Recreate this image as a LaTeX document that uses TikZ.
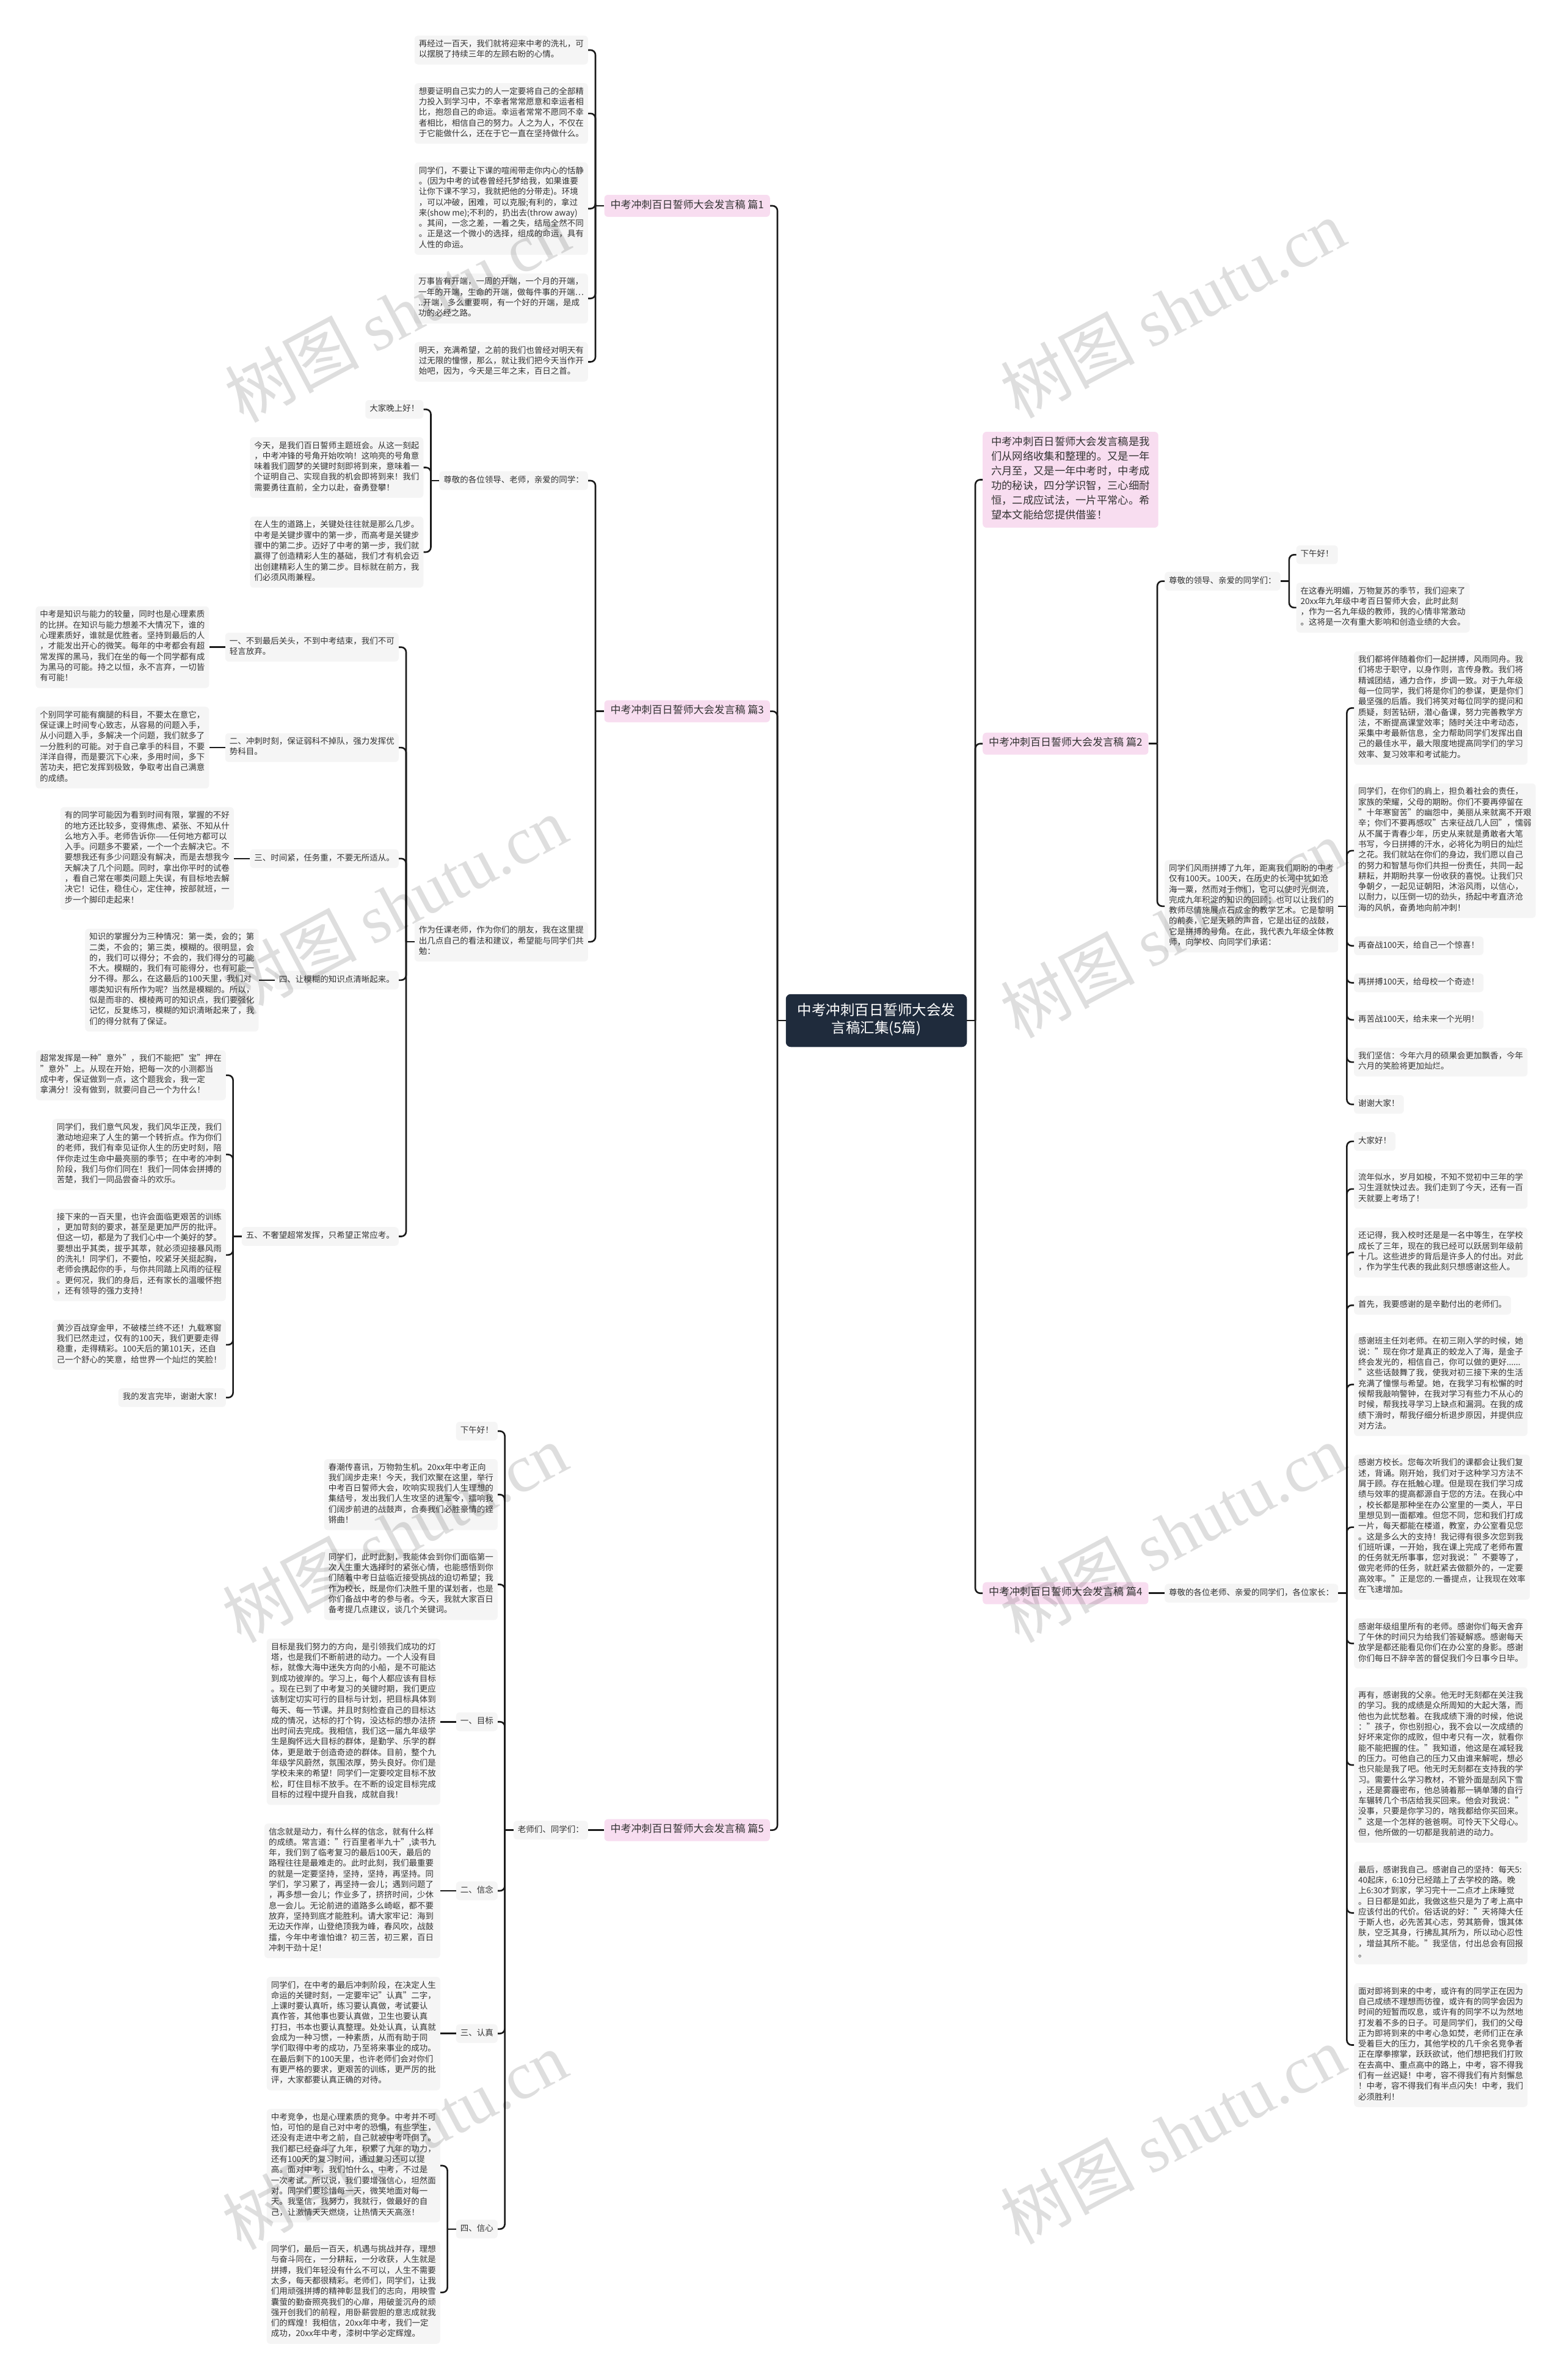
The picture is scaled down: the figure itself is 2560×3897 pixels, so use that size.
\documentclass[tikz,border=0pt]{standalone}
\usepackage{fontspec}
\setmainfont{Noto Sans CJK SC}
\newfontfamily\wmfont{Liberation Serif}
\definecolor{leafc}{HTML}{F5F5F5}
\definecolor{pinkc}{HTML}{F8DDF0}
\definecolor{navyc}{HTML}{1F2B3C}
\definecolor{txtc}{HTML}{333333}
\definecolor{linec}{HTML}{1A1A1A}
\tikzset{
  box/.style={rounded corners=6pt, inner xsep=7pt, inner ysep=6.65pt, align=left, text=txtc,
    execute at begin node=\strut, execute at end node=\strut},
  leaf/.style={box, fill=leafc, font=\fontsize{13.5}{17.3}\selectfont},
  lf/.style={leaf, anchor=east},
  rt/.style={leaf, anchor=west},
  branch/.style={box, fill=pinkc, font=\fontsize{17}{21}\selectfont, inner xsep=10pt, inner ysep=7.5pt},
  hub/.style={box, fill=navyc, text=white, align=center, rounded corners=8pt,
    font=\fontsize{23.5}{29}\selectfont, inner xsep=19pt, inner ysep=14.5pt},
  intro/.style={box, fill=pinkc, font=\fontsize{17.3}{24}\selectfont, inner xsep=14pt, inner ysep=7.5pt, anchor=west},
  conn/.style={draw=linec, line width=2.6pt, rounded corners=8pt},
  wm/.style={rotate=28, text=black, text opacity=0.13, font=\fontsize{110}{110}\selectfont, inner sep=0pt},
}
\begin{document}
\begin{tikzpicture}[x=1pt,y=-1pt]
\fill[white] (0,0) rectangle (2560,3897);
\useasboundingbox (0,0) rectangle (2560,3897);

% ---------------- centre ----------------
\node[hub] (c) at (1435,1671) {中考冲刺百日誓师大会发\\言稿汇集(5篇)};
\coordinate (cl) at (1273,1671);
\coordinate (cr) at (1597,1671);
\draw[conn] (c.west) -- (cl);
\draw[conn] (c.east) -- (cr);

% ---------------- first level ----------------
\node[branch, anchor=east] (b1) at (1261,337) {中考冲刺百日誓师大会发言稿 篇1};
\node[branch, anchor=east] (b3) at (1261,1164.6) {中考冲刺百日誓师大会发言稿 篇3};
\node[branch, anchor=east] (b5) at (1261,2996.6) {中考冲刺百日誓师大会发言稿 篇5};
\node[intro] (in) at (1609,785.5) {中考冲刺百日誓师大会发言稿是我\\们从网络收集和整理的。又是一年\\六月至，又是一年中考时，中考成\\功的秘诀，四分学识智，三心细耐\\恒，二成应试法，一片平常心。希\\望本文能给您提供借鉴！};
\node[branch, anchor=west] (b2) at (1609,1217.7) {中考冲刺百日誓师大会发言稿 篇2};
\node[branch, anchor=west] (b4) at (1609,2608.7) {中考冲刺百日誓师大会发言稿 篇4};
\foreach \n in {b1,b3,b5}{\draw[conn] (cl) |- (\n.east);}
\foreach \n in {in,b2,b4}{\draw[conn] (cr) |- (\n.west);}

% ---------------- branch 1 ----------------
\coordinate (b1s) at (975,337);
\draw[conn] (b1.west) -- (b1s);
\node[lf] (b1a) at (963,82) {再经过一百天，我们就将迎来中考的洗礼，可\\以摆脱了持续三年的左顾右盼的心情。};
\node[lf] (b1b) at (963,185.8) {想要证明自己实力的人一定要将自己的全部精\\力投入到学习中，不幸者常常愿意和幸运者相\\比，抱怨自己的命运。幸运者常常不愿同不幸\\者相比，相信自己的努力。人之为人，不仅在\\于它能做什么，还在于它一直在坚持做什么。};
\node[lf] (b1c) at (963,341.6) {同学们，不要让下课的喧闹带走你内心的恬静\\。(因为中考的试卷曾经托梦给我，如果谁要\\让你下课不学习，我就把他的分带走)。环境\\，可以冲破，困难，可以克服;有利的，拿过\\来(show me);不利的，扔出去(throw away)\\。其间，一念之差，一着之失，结局全然不同\\。正是这一个微小的选择，组成的命运，具有\\人性的命运。};
\node[lf] (b1d) at (963,488.7) {万事皆有开端，一周的开端，一个月的开端，\\一年的开端，生命的开端，做每件事的开端…\\..开端，多么重要啊，有一个好的开端，是成\\功的必经之路。};
\node[lf] (b1e) at (963,592.5) {明天，充满希望，之前的我们也曾经对明天有\\过无限的憧憬，那么，就让我们把今天当作开\\始吧，因为，今天是三年之末，百日之首。};
\foreach \n in {b1a,b1b,b1c,b1d,b1e}{\draw[conn] (b1s) |- (\n.east);}

% ---------------- branch 3 ----------------
\coordinate (b3s) at (975,1164.6);
\draw[conn] (b3.west) -- (b3s);
\node[lf] (b3p) at (963,787) {尊敬的各位领导、老师，亲爱的同学：};
\node[lf] (b3q) at (963,1542.1) {作为任课老师，作为你们的朋友，我在这里提\\出几点自己的看法和建议，希望能与同学们共\\勉：};
\foreach \n in {b3p,b3q}{\draw[conn] (b3s) |- (\n.east);}

\coordinate (b3ps) at (705.5,787);
\draw[conn] (b3p.west) -- (b3ps);
\node[lf] (b3pa) at (693.5,670.3) {大家晚上好！};
\node[lf] (b3pb) at (693.5,765.5) {今天，是我们百日誓师主题班会。从这一刻起\\，中考冲锋的号角开始吹响！这响亮的号角意\\味着我们圆梦的关键时刻即将到来，意味着一\\个证明自己、实现自我的机会即将到来！我们\\需要勇往直前，全力以赴，奋勇登攀！};
\node[lf] (b3pc) at (693.5,904) {在人生的道路上，关键处往往就是那么几步。\\中考是关键步骤中的第一步，而高考是关键步\\骤中的第二步。迈好了中考的第一步，我们就\\赢得了创造精彩人生的基础，我们才有机会迈\\出创建精彩人生的第二步。目标就在前方，我\\们必须风雨兼程。};
\foreach \n in {b3pa,b3pb,b3pc}{\draw[conn] (b3ps) |- (\n.east);}

\coordinate (b3qs) at (665,1542.1);
\draw[conn] (b3q.west) -- (b3qs);
\node[lf] (k1) at (653,1059.7) {一、不到最后关头，不到中考结束，我们不可\\轻言放弃。};
\node[lf] (k2) at (653,1224.1) {二、冲刺时刻，保证弱科不掉队，强力发挥优\\势科目。};
\node[lf] (k3) at (653,1405.8) {三、时间紧，任务重，不要无所适从。};
\node[lf] (k4) at (653,1604.8) {四、让模糊的知识点清晰起来。};
\node[lf] (k5) at (653,2024.5) {五、不奢望超常发挥，只希望正常应考。};
\foreach \n in {k1,k2,k3,k4,k5}{\draw[conn] (b3qs) |- (\n.east);}

\node[lf] (k1a) at ([xshift=-26pt]k1.west) {中考是知识与能力的较量，同时也是心理素质\\的比拼。在知识与能力想差不大情况下，谁的\\心理素质好，谁就是优胜者。坚持到最后的人\\，才能发出开心的微笑。每年的中考都会有超\\常发挥的黑马，我们在坐的每一个同学都有成\\为黑马的可能。持之以恒，永不言弃，一切皆\\有可能！};
\node[lf] (k2a) at ([xshift=-26pt]k2.west) {个别同学可能有瘸腿的科目，不要太在意它，\\保证课上时间专心致志，从容易的问题入手，\\从小问题入手，多解决一个问题，我们就多了\\一分胜利的可能。对于自己拿手的科目，不要\\洋洋自得，而是要沉下心来，多用时间，多下\\苦功夫，把它发挥到极致，争取考出自己满意\\的成绩。};
\node[lf] (k3a) at ([xshift=-26pt]k3.west) {有的同学可能因为看到时间有限，掌握的不好\\的地方还比较多，变得焦虑、紧张、不知从什\\么地方入手。老师告诉你——任何地方都可以\\入手。问题多不要紧，一个一个去解决它。不\\要想我还有多少问题没有解决，而是去想我今\\天解决了几个问题。同时，拿出你平时的试卷\\，看自己常在哪类问题上失误，有目标地去解\\决它！记住，稳住心，定住神，按部就班，一\\步一个脚印走起来！};
\node[lf] (k4a) at ([xshift=-26pt]k4.west) {知识的掌握分为三种情况：第一类，会的；第\\二类，不会的；第三类，模糊的。很明显，会\\的，我们可以得分；不会的，我们得分的可能\\不大。模糊的，我们有可能得分，也有可能一\\分不得。那么，在这最后的100天里，我们对\\哪类知识有所作为呢？当然是模糊的。所以，\\似是而非的、模棱两可的知识点，我们要强化\\记忆，反复练习，模糊的知识清晰起来了，我\\们的得分就有了保证。};
\foreach \n in {k1,k2,k3,k4}{\draw[conn] (\n.west) -- (\n a.east);}

\coordinate (k5s) at ([xshift=-14pt]k5.west);
\draw[conn] (k5.west) -- (k5s);
\node[lf] (k5a) at (370,1760.6) {超常发挥是一种"意外"，我们不能把"宝"押在\\"意外"上。从现在开始，把每一次的小测都当\\成中考，保证做到一点，这个题我会，我一定\\拿满分！没有做到，就要问自己一个为什么！};
\node[lf] (k5b) at (370,1890.4) {同学们，我们意气风发，我们风华正茂，我们\\激动地迎来了人生的第一个转折点。作为你们\\的老师，我们有幸见证你人生的历史时刻，陪\\伴你走过生命中最亮丽的季节；在中考的冲刺\\阶段，我们与你们同在！我们一同体会拼搏的\\苦楚，我们一同品尝奋斗的欢乐。};
\node[lf] (k5c) at (370,2054.8) {接下来的一百天里，也许会面临更艰苦的训练\\，更加苛刻的要求，甚至是更加严厉的批评。\\但这一切，都是为了我们心中一个美好的梦。\\要想出乎其类，拔乎其萃，就必须迎接暴风雨\\的洗礼！同学们，不要怕，咬紧牙关挺起胸，\\老师会携起你的手，与你共同踏上风雨的征程\\。更何况，我们的身后，还有家长的温暖怀抱\\，还有领导的强力支持！};
\node[lf] (k5d) at (370,2201.9) {黄沙百战穿金甲，不破楼兰终不还！九载寒窗\\我们已然走过，仅有的100天，我们更要走得\\稳重，走得精彩。100天后的第101天，还自\\己一个舒心的笑意，给世界一个灿烂的笑脸！};
\node[lf] (k5e) at (370,2288.4) {我的发言完毕，谢谢大家！};
\foreach \n in {k5a,k5b,k5c,k5d,k5e}{\draw[conn] (k5s) |- (\n.east);}

% ---------------- branch 5 ----------------
\coordinate (b5s) at (975,2996.6);
\draw[conn] (b5.west) -- (b5s);
\node[lf] (b5p) at (963,2996.6) {老师们、同学们：};
\draw[conn] (b5s) -- (b5p.east);
\coordinate (b5ps) at ([xshift=-14pt]b5p.west);
\draw[conn] (b5p.west) -- (b5ps);
\node[lf] (m1) at (815,2343.3) {下午好！};
\node[lf] (m2) at (815,2447.2) {春潮传喜讯，万物勃生机。20xx年中考正向\\我们阔步走来！今天，我们欢聚在这里，举行\\中考百日誓师大会，吹响实现我们人生理想的\\集结号，发出我们人生攻坚的进军令，擂响我\\们阔步前进的战鼓声，合奏我们必胜豪情的铿\\锵曲！};
\node[lf] (m3) at (815,2594.3) {同学们，此时此刻，我能体会到你们面临第一\\次人生重大选择时的紧张心情，也能感悟到你\\们随着中考日益临近接受挑战的迫切希望；我\\作为校长，既是你们决胜千里的谋划者，也是\\你们备战中考的参与者。今天，我就大家百日\\备考提几点建议，谈几个关键词。};
\node[lf] (t1) at (815,2819.2) {一、目标};
\node[lf] (t2) at (815,3096) {二、信念};
\node[lf] (t3) at (815,3329.7) {三、认真};
\node[lf] (t4) at (815,3649.8) {四、信心};
\foreach \n in {m1,m2,m3,t1,t2,t3,t4}{\draw[conn] (b5ps) |- (\n.east);}

\node[lf] (t1a) at (721,2819.2) {目标是我们努力的方向，是引领我们成功的灯\\塔，也是我们不断前进的动力。一个人没有目\\标，就像大海中迷失方向的小船，是不可能达\\到成功彼岸的。学习上，每个人都应该有目标\\。现在已到了中考复习的关键时期，我们更应\\该制定切实可行的目标与计划，把目标具体到\\每天、每一节课。并且时刻检查自己的目标达\\成的情况，达标的打个钩，没达标的想办法挤\\出时间去完成。我相信，我们这一届九年级学\\生是胸怀远大目标的群体，是勤学、乐学的群\\体，更是敢于创造奇迹的群体。目前，整个九\\年级学风蔚然，氛围浓厚，势头良好。你们是\\学校未来的希望！同学们一定要咬定目标不放\\松，盯住目标不放手。在不断的设定目标完成\\目标的过程中提升自我，成就自我！};
\node[lf] (t2a) at (721,3096) {信念就是动力，有什么样的信念，就有什么样\\的成绩。常言道："行百里者半九十",读书九\\年，我们到了临考复习的最后100天，最后的\\路程往往是最难走的。此时此刻，我们最重要\\的就是一定要坚持，坚持，坚持，再坚持。同\\学们，学习累了，再坚持一会儿；遇到问题了\\，再多想一会儿；作业多了，挤挤时间，少休\\息一会儿。无论前进的道路多么崎岖，都不要\\放弃，坚持到底才能胜利。请大家牢记：海到\\无边天作岸，山登绝顶我为峰，春风吹，战鼓\\擂，今年中考谁怕谁？初三苦，初三累，百日\\冲刺干劲十足！};
\node[lf] (t3a) at (721,3329.7) {同学们，在中考的最后冲刺阶段，在决定人生\\命运的关键时刻，一定要牢记"认真"二字，\\上课时要认真听，练习要认真做，考试要认\\真作答，其他事也要认真做，卫生也要认真\\打扫，书本也要认真整理。处处认真，认真就\\会成为一种习惯，一种素质，从而有助于同\\学们取得中考的成功，乃至将来事业的成功。\\在最后剩下的100天里，也许老师们会对你们\\有更严格的要求，更艰苦的训练，更严厉的批\\评，大家都要认真正确的对待。};
\coordinate (t4s) at ([xshift=-14pt]t4.west);
\draw[conn] (t4.west) -- (t4s);
\node[lf] (t4a) at (721,3546) {中考竞争，也是心理素质的竞争。中考并不可\\怕，可怕的是自己对中考的恐惧，有些学生，\\还没有走进中考之前，自己就被中考吓倒了。\\我们都已经奋斗了九年，积累了九年的功力，\\还有100天的复习时间，通过复习还可以提\\高。面对中考，我们怕什么，中考，不过是\\一次考试。所以说，我们要增强信心，坦然面\\对。同学们要珍惜每一天，微笑地面对每一\\天。我坚信，我努力，我就行，做最好的自\\己，让激情天天燃烧，让热情天天高涨！};
\node[lf] (t4b) at (721,3753.6) {同学们，最后一百天，机遇与挑战并存，理想\\与奋斗同在，一分耕耘，一分收获，人生就是\\拼搏，我们年轻没有什么不可以，人生不需要\\太多，每天都很精彩。老师们，同学们，让我\\们用顽强拼搏的精神彰显我们的志向，用映雪\\囊萤的勤奋照亮我们的心扉，用破釜沉舟的顽\\强开创我们的前程，用卧薪尝胆的意志成就我\\们的辉煌！我相信，20xx年中考，我们一定\\成功，20xx年中考，漆树中学必定辉煌。};
\foreach \n in {t1,t2,t3}{\draw[conn] (\n.west) -- (\n a.east);}
\foreach \n in {t4a,t4b}{\draw[conn] (t4s) |- (\n.east);}

% ---------------- branch 2 ----------------
\coordinate (b2s) at (1895,1217.7);
\draw[conn] (b2.east) -- (b2s);
\node[rt] (b2p) at (1907,951.6) {尊敬的领导、亲爱的同学们：};
\node[rt] (b2q) at (1907,1483.8) {同学们风雨拼搏了九年，距离我们期盼的中考\\仅有100天。100天，在历史的长河中犹如沧\\海一粟，然而对于你们，它可以使时光倒流，\\完成九年积淀的知识的回顾；也可以让我们的\\教师尽情施展点石成金的教学艺术。它是黎明\\的前奏，它是天籁的声音，它是出征的战鼓，\\它是拼搏的号角。在此，我代表九年级全体教\\师，向学校、向同学们承诺：};
\foreach \n in {b2p,b2q}{\draw[conn] (b2s) |- (\n.west);}
\coordinate (b2ps) at ([xshift=14pt]b2p.east);
\draw[conn] (b2p.east) -- (b2ps);
\node[rt] (r1) at (2122.5,908.3) {下午好！};
\node[rt] (r2) at (2122.5,994.9) {在这春光明媚，万物复苏的季节，我们迎来了\\20xx年九年级中考百日誓师大会，此时此刻\\，作为一名九年级的教师，我的心情非常激动\\。这将是一次有重大影响和创造业绩的大会。};
\foreach \n in {r1,r2}{\draw[conn] (b2ps) |- (\n.west);}
\coordinate (b2qs) at ([xshift=14pt]b2q.east);
\draw[conn] (b2q.east) -- (b2qs);
\node[rt] (s1) at (2217,1159.3) {我们都将伴随着你们一起拼搏，风雨同舟。我\\们将忠于职守，以身作则，言传身教。我们将\\精诚团结，通力合作，步调一致。对于九年级\\每一位同学，我们将是你们的参谋，更是你们\\最坚强的后盾。我们将笑对每位同学的提问和\\质疑，刻苦钻研，潜心备课，努力完善教学方\\法，不断提高课堂效率；随时关注中考动态，\\采集中考最新信息，全力帮助同学们发挥出自\\己的最佳水平，最大限度地提高同学们的学习\\效率、复习效率和考试能力。};
\node[rt] (s2) at (2217,1392.9) {同学们，在你们的肩上，担负着社会的责任，\\家族的荣耀，父母的期盼。你们不要再停留在\\"十年寒窗苦"的幽怨中，美丽从来就离不开艰\\辛；你们不要再感叹"古来征战几人回"，懦弱\\从不属于青春少年，历史从来就是勇敢者大笔\\书写，今日拼搏的汗水，必将化为明日的灿烂\\之花。我们就站在你们的身边，我们愿以自己\\的努力和智慧与你们共担一份责任，共同一起\\耕耘，并期盼共享一份收获的喜悦。让我们只\\争朝夕，一起见证朝阳，沐浴风雨，以信心，\\以耐力，以压倒一切的劲头，扬起中考直济沧\\海的风帆，奋勇地向前冲刺！};
\node[rt] (s3) at (2217,1548.6) {再奋战100天，给自己一个惊喜！};
\node[rt] (s4) at (2217,1609.2) {再拼搏100天，给母校一个奇迹！};
\node[rt] (s5) at (2217,1669.8) {再苦战100天，给未来一个光明！};
\node[rt] (s6) at (2217,1739.1) {我们坚信：今年六月的硕果会更加飘香，今年\\六月的笑脸将更加灿烂。};
\node[rt] (s7) at (2217,1808.3) {谢谢大家！};
\foreach \n in {s1,s2,s3,s4,s5,s6,s7}{\draw[conn] (b2qs) |- (\n.west);}

% ---------------- branch 4 ----------------
\coordinate (b4s) at (1895,2608.7);
\draw[conn] (b4.east) -- (b4s);
\node[rt] (b4p) at (1907,2608.7) {尊敬的各位老师、亲爱的同学们，各位家长：};
\draw[conn] (b4s) -- (b4p.west);
\coordinate (b4ps) at ([xshift=14pt]b4p.east);
\draw[conn] (b4p.east) -- (b4ps);
\node[rt] (u1) at (2217,1868.9) {大家好！};
\node[rt] (u2) at (2217,1946.8) {流年似水，岁月如梭，不知不觉初中三年的学\\习生涯就快过去。我们走到了今天，还有一百\\天就要上考场了！};
\node[rt] (u3) at (2217,2050.7) {还记得，我入校时还是是一名中等生，在学校\\成长了三年，现在的我已经可以跃居到年级前\\十几。这些进步的背后是许多人的付出。对此\\，作为学生代表的我此刻只想感谢这些人。};
\node[rt] (u4) at (2217,2137.2) {首先，我要感谢的是辛勤付出的老师们。};
\node[rt] (u5) at (2217,2267) {感谢班主任刘老师。在初三刚入学的时候，她\\说："现在你才是真正的蛟龙入了海，是金子\\终会发光的，相信自己，你可以做的更好......\\"这些话鼓舞了我，使我对初三接下来的生活\\充满了憧憬与希望。她，在我学习有松懈的时\\候帮我敲响警钟，在我对学习有些力不从心的\\时候，帮我找寻学习上缺点和漏洞。在我的成\\绩下滑时，帮我仔细分析退步原因，并提供应\\对方法。};
\node[rt] (u6) at (2217,2500.6) {感谢方校长。您每次听我们的课都会让我们复\\述，背诵。刚开始，我们对于这种学习方法不\\屑于顾。存在抵触心理。但是现在我们学习成\\绩与效率的提高都源自于您的方法。在我心中\\，校长都是那种坐在办公室里的一类人，平日\\里想见到一面都难。但您不同，您和我们打成\\一片，每天都能在楼道，教室，办公室看见您\\。这是多么大的支持！我记得有很多次您到我\\们班听课，一开始，我在课上完成了老师布置\\的任务就无所事事，您对我说："不要等了，\\做完老师的任务，就赶紧去做额外的，一定要\\高效率。"正是您的.一番提点，让我现在效率\\在飞速增加。};
\node[rt] (u7) at (2217,2691) {感谢年级组里所有的老师。感谢你们每天舍弃\\了午休的时间只为给我们答疑解惑。感谢每天\\放学是都还能看见你们在办公室的身影。感谢\\你们每日不辞辛苦的督促我们今日事今日毕。};
\node[rt] (u8) at (2217,2890) {再有，感谢我的父亲。他无时无刻都在关注我\\的学习。我的成绩是众所周知的大起大落，而\\他也为此忧愁着。在我成绩下滑的时候，他说\\："孩子，你也别担心，我不会以一次成绩的\\好坏来定你的成败，但中考只有一次，就看你\\能不能把握的住。"我知道，他这是在减轻我\\的压力。可他自己的压力又由谁来解呢，想必\\也只能是我了吧。他无时无刻都在支持我的学\\习。需要什么学习教材，不管外面是刮风下雪\\，还是雾霾密布，他总骑着那一辆单薄的自行\\车辗转几个书店给我买回来。他会对我说："\\没事，只要是你学习的，啥我都给你买回来。\\"这是一个怎样的爸爸啊。可怜天下父母心。\\但，他所做的一切都是我前进的动力。};
\node[rt] (u9) at (2217,3132.2) {最后，感谢我自己。感谢自己的坚持：每天5:\\40起床，6:10分已经踏上了去学校的路。晚\\上6:30才到家，学习完十一二点才上床睡觉\\。日日都是如此，我做这些只是为了考上高中\\应该付出的代价。俗话说的好："天将降大任\\于斯人也，必先苦其心志，劳其筋骨，饿其体\\肤，空乏其身，行拂乱其所为，所以动心忍性\\，增益其所不能。"我坚信，付出总会有回报\\。};
\node[rt] (u10) at (2217,3348.5) {面对即将到来的中考，或许有的同学正在因为\\自己成绩不理想而彷徨，或许有的同学会因为\\时间的短暂而叹息，或许有的同学不以为然地\\打发着不多的日子。可是同学们，我们的父母\\正为即将到来的中考心急如焚，老师们正在承\\受着巨大的压力，其他学校的几千余名竞争者\\正在摩拳擦掌，跃跃欲试，他们想把我们打败\\在去高中、重点高中的路上，中考，容不得我\\们有一丝迟疑！中考，容不得我们有片刻懈怠\\！中考，容不得我们有半点闪失！中考，我们\\必须胜利！};
\foreach \n in {u1,u2,u3,u4,u5,u6,u7,u8,u9,u10}{\draw[conn] (b4ps) |- (\n.west);}

% ---------------- watermark ----------------
\foreach \wx/\wy [count=\i] in {650/512,1920/505,646/1482,1920/1520,646/2510,1920/2510,646/3504,1920/3495}{
  \node[wm] (wm\i) at (\wx,\wy) {树图 {\wmfont shutu.cn}};
}
\end{tikzpicture}
\end{document}
